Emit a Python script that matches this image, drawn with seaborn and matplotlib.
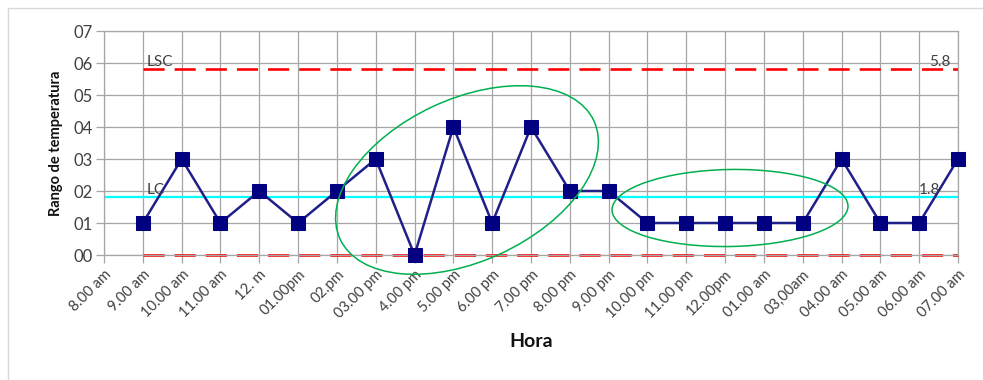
import numpy as np
import pandas as pd
import seaborn as sns
import matplotlib.pyplot as plt
from matplotlib.patches import Ellipse
from matplotlib.lines import Line2D
from matplotlib.transforms import IdentityTransform

# Hour labels along the x axis (first one has no data point)
horas = ["8.00 am", "9.00 am", "10.00 am", "11.00 am", "12. m", "01.00pm", "02.pm",
         "03.00 pm", "4.00 pm", "5.00 pm", "6.00 pm", "7.00 pm", "8.00 pm", "9.00 pm",
         "10.00 pm", "11.00 pm", "12.00pm", "01.00 am", "03,00am", "04.00 am",
         "05.00 am", "06.00 am", "07.00 am"]
# Temperature range, from 9.00 am to 07.00 am
rango = [1, 3, 1, 2, 1, 2, 3, 0, 4, 1, 4, 2, 2, 1, 1, 1, 1, 1, 3, 1, 1, 3]
lsc = 5.8
lc = 1.8
lic = 0.0

sns.set_theme(style="whitegrid")
plt.rcParams['font.family'] = ['Lato', 'DejaVu Sans']

df = pd.DataFrame({"pos": np.arange(1, len(rango) + 1), "rango": rango})

fig = plt.figure(figsize=(9.83, 3.80), dpi=100)
ax = fig.add_axes([104 / 983, 1 - 255 / 380, (958 - 104) / 983, (255 - 31) / 380])

grid_c = "#a6a6a6"
ax.set_facecolor("white")
ax.grid(True, color=grid_c, linewidth=0.9)
for s in ax.spines.values():
    s.set_color(grid_c)
    s.set_linewidth(0.9)

# control limits
ax.axhline(lc, color="#00ffff", linewidth=1.6, zorder=2)
for v in (lsc, lic):
    ax.hlines(v, 1, 22, colors="#ff0000", linewidth=1.9, linestyles=(0, (8, 3.8)),
              zorder=2, clip_on=False)

sns.lineplot(data=df, x="pos", y="rango", ax=ax, color="#1f1f8a", linewidth=1.8,
             marker="s", markersize=10, markeredgecolor="#000080",
             markerfacecolor="#000080", zorder=3, clip_on=False)

ax.set_xlim(0, len(horas) - 1)
ax.set_ylim(0, 7)
ax.set_xticks(range(len(horas)))
ax.set_xticklabels(horas, rotation=45, ha="right", rotation_mode="anchor")
ax.set_yticks(range(8))
ax.set_yticklabels([f"{i:02d}" for i in range(8)])
ax.tick_params(axis="x", length=6, color=grid_c, width=0.9, labelsize=10.5,
               labelcolor="#404040", pad=3, bottom=True)
ax.tick_params(axis="y", length=6, color=grid_c, width=0.9, labelsize=12,
               labelcolor="#404040", pad=2, left=True)

ax.set_xlabel("Hora", fontsize=14, fontweight="bold", color="#111111", labelpad=9)
ax.set_ylabel("Rango de temperatura", fontsize=10.5, fontweight="bold", color="#111111",
              labelpad=8)

txt = dict(fontsize=11, color="#404040")
ax.text(1.1, lsc + 0.02, "LSC", ha="left", va="bottom", **txt)
ax.text(1.1, lc + 0.02, "LC", ha="left", va="bottom", **txt)
ax.text(21.8, lsc + 0.02, "5.8", ha="right", va="bottom", **txt)
ax.text(21.55, lc + 0.02, "1.8", ha="right", va="bottom", **txt)

# hand-drawn highlight ellipses (pixel coordinates, origin at bottom-left)
ell_c = "#00b050"
fig.add_artist(Ellipse((467, 380 - 180), 280, 162, angle=25, fill=False,
                       edgecolor=ell_c, linewidth=1.1, transform=IdentityTransform()))
fig.add_artist(Ellipse((730, 380 - 208), 236, 77, angle=1, fill=False,
                       edgecolor=ell_c, linewidth=1.1, transform=IdentityTransform()))

# outer chart frame
frame_c = "#d9d9d9"
fig.add_artist(Line2D([8 / 983, 8 / 983], [0, 1 - 8 / 380], color=frame_c, linewidth=1,
                      transform=fig.transFigure))
fig.add_artist(Line2D([8 / 983, 1], [1 - 8 / 380, 1 - 8 / 380], color=frame_c,
                      linewidth=1, transform=fig.transFigure))

fig.savefig("out.png", dpi=100)
